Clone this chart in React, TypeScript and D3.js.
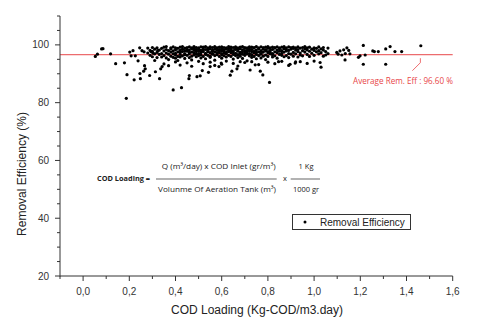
import React from "react";
import * as d3 from "d3";

const xMajorTicks = [0, 0.2, 0.4, 0.6, 0.8, 1.0, 1.2, 1.4, 1.6];
const xMinorTicks = [-0.1, 0.1, 0.3, 0.5, 0.7, 0.9, 1.1, 1.3, 1.5];
const yMajorTicks = [20, 40, 60, 80, 100];
const yMinorTicks = [25, 30, 35, 45, 50, 55, 65, 70, 75, 85, 90, 95, 105, 110];
const averageEfficiency = 96.6;

const leftPoints: [number, number][] = [
  [0.053, 96.0], [0.062, 96.8], [0.080, 98.6], [0.086, 98.7], [0.119, 96.9], [0.141, 93.5],
  [0.179, 93.8], [0.190, 89.7], [0.187, 81.5], [0.202, 97.5], [0.208, 96.2], [0.216, 98.0],
  [0.221, 87.9], [0.226, 96.2], [0.238, 94.5], [0.245, 99.0], [0.246, 90.1], [0.248, 88.3],
  [0.255, 98.0], [0.264, 97.6], [0.266, 92.8], [0.269, 91.7], [0.262, 90.9],
];

const lowPoints: [number, number][] = [
  [0.288, 89.4], [0.294, 97.7], [0.303, 97.1], [0.310, 94.6], [0.313, 90.7], [0.323, 98.0],
  [0.331, 88.3], [0.336, 91.7], [0.342, 92.5], [0.390, 84.4], [0.426, 85.2], [0.458, 88.3],
  [0.46, 89.4], [0.493, 89.0], [0.507, 89.3], [0.516, 91.1], [0.543, 90.5], [0.55, 92.5],
  [0.588, 92.5], [0.598, 93.7], [0.637, 89.5], [0.644, 90.9], [0.666, 91.7], [0.68, 94.2],
  [0.723, 91.3], [0.767, 90.9], [0.778, 89.6], [0.807, 87.0], [0.745, 93.1], [0.846, 94.2],
  [0.896, 93.3], [0.918, 93.7], [0.94, 94.2], [1.026, 93.9], [1.03, 92.3],
  [0.35, 93.4], [0.37, 92.8], [0.40, 94.1], [0.42, 93.0], [0.45, 93.8], [0.47, 92.6],
  [0.50, 94.3], [0.52, 93.5], [0.55, 94.0], [0.57, 92.9], [0.60, 93.3], [0.62, 94.4],
  [0.65, 93.6], [0.67, 92.7], [0.70, 93.9], [0.73, 94.2], [0.76, 93.2], [0.80, 94.0],
  [0.83, 93.5], [0.86, 94.3], [0.89, 92.9], [0.92, 94.1], [0.97, 93.6], [1.0, 94.4],
];

const bandColumns: [number, number[]][] = [
  [0.28, [97.2, 98.9]], [0.29, [96.4, 98.1]], [0.30, [97.8, 95.9, 99.1]], [0.31, [96.9, 98.5]],
  [0.32, [97.4, 99.0, 95.6]], [0.33, [98.2, 96.7]], [0.34, [97.0, 98.8, 95.8]],
  [0.35, [99.2, 96.3, 97.9]], [0.36, [98.4, 95.5, 97.2, 99.4]], [0.37, [96.8, 98.0, 94.9]],
  [0.38, [99.0, 97.5, 96.1, 98.6]], [0.39, [97.9, 95.7, 99.3, 96.9]],
  [0.40, [98.3, 97.1, 99.0, 95.4, 96.5]], [0.41, [97.6, 98.8, 96.0, 94.6]],
  [0.42, [99.2, 97.3, 98.1, 95.8, 96.7]], [0.43, [98.5, 96.2, 99.4, 97.7]],
  [0.44, [97.0, 98.9, 95.3, 96.6, 98.0]], [0.45, [99.1, 97.8, 96.4, 98.4]],
  [0.46, [98.2, 96.9, 99.3, 95.6, 97.4]], [0.47, [97.5, 98.7, 96.1, 99.0, 94.8]],
  [0.48, [98.8, 97.2, 99.4, 96.5, 98.1]], [0.49, [96.8, 98.3, 97.7, 95.9, 99.1]],
  [0.50, [99.0, 97.9, 96.3, 98.5, 97.0]], [0.51, [98.1, 96.6, 99.3, 97.4, 95.5]],
  [0.52, [97.7, 98.9, 96.0, 99.2, 98.3]], [0.53, [99.4, 97.1, 98.4, 96.7, 95.2]],
  [0.54, [98.0, 96.4, 99.0, 97.6, 98.7]], [0.55, [97.3, 98.6, 99.3, 96.1, 95.7]],
  [0.56, [99.1, 97.8, 96.8, 98.2, 97.0]], [0.57, [98.5, 96.3, 99.4, 97.5, 94.7]],
  [0.58, [97.2, 98.9, 96.6, 99.0, 98.1]], [0.59, [99.2, 97.9, 96.0, 98.4, 97.3]],
  [0.60, [98.7, 97.0, 99.3, 96.5, 95.4, 98.0]], [0.61, [97.6, 98.3, 96.2, 99.1, 97.1]],
  [0.62, [99.0, 98.5, 96.9, 97.4, 95.8]], [0.63, [98.1, 99.4, 97.7, 96.4, 98.8]],
  [0.64, [97.3, 98.6, 99.2, 96.0, 97.9]], [0.65, [99.1, 98.0, 96.7, 97.5, 95.1]],
  [0.66, [98.4, 97.1, 99.3, 96.3, 98.9]], [0.67, [97.8, 99.0, 96.6, 98.2, 95.6]],
  [0.68, [99.2, 97.4, 98.7, 96.1, 97.0]], [0.69, [98.3, 96.8, 99.4, 97.6, 95.3]],
  [0.70, [97.2, 98.8, 99.1, 96.4, 97.9]], [0.71, [99.0, 98.1, 96.9, 97.5, 94.5]],
  [0.72, [98.6, 97.0, 99.3, 96.2, 98.0]], [0.73, [97.7, 99.2, 98.4, 96.6, 95.7]],
  [0.74, [99.1, 97.3, 98.9, 96.0, 97.8]], [0.75, [98.2, 96.7, 99.4, 97.4, 95.2]],
  [0.76, [97.6, 98.7, 99.0, 96.3]], [0.77, [99.3, 98.0, 97.1, 96.8, 95.5]],
  [0.78, [98.5, 97.5, 99.1, 96.1]], [0.79, [97.9, 99.2, 98.3, 96.5, 94.9]],
  [0.80, [98.8, 97.2, 99.4, 96.0, 97.7]], [0.81, [99.0, 98.1, 96.9, 97.4]],
  [0.82, [98.4, 97.0, 99.2, 95.8, 96.6]], [0.83, [97.6, 98.9, 96.2, 99.1]],
  [0.84, [99.3, 98.2, 97.3, 95.4]], [0.85, [98.6, 97.8, 96.7, 99.0]],
  [0.86, [97.1, 99.2, 98.0, 96.4]], [0.87, [98.7, 99.4, 97.5, 95.9]],
  [0.88, [99.0, 97.9, 96.3, 98.3]], [0.89, [98.1, 97.0, 99.3, 95.6]],
  [0.90, [99.1, 98.5, 96.8]], [0.91, [97.4, 98.8, 96.1, 99.2]], [0.92, [98.2, 99.0, 96.9]],
  [0.93, [97.7, 99.3, 95.8, 98.4]], [0.94, [98.9, 97.2, 96.5]], [0.95, [99.1, 98.0, 96.2]],
  [0.96, [97.5, 98.6, 99.4]], [0.97, [98.3, 96.7, 99.0]], [0.98, [99.2, 97.8, 96.0]],
  [0.99, [98.5, 97.1]], [1.00, [99.0, 96.4, 98.1]], [1.01, [97.6, 98.8]],
  [1.02, [99.3, 96.9, 98.0]], [1.03, [97.3, 98.6]], [1.04, [96.1, 98.2, 99.1]],
  [1.05, [97.7, 96.5]], [1.06, [98.9, 97.0]],
];

const highPoints: [number, number][] = [
  [1.098, 97.4], [1.104, 96.8], [1.112, 97.9], [1.120, 96.5], [1.128, 98.3], [1.135, 97.0],
  [1.142, 99.0], [1.150, 98.1], [1.155, 96.9], [1.134, 94.8], [1.192, 95.7], [1.199, 96.2],
  [1.213, 93.3], [1.213, 99.8], [1.221, 96.5], [1.254, 97.9], [1.261, 97.7], [1.278, 97.7],
  [1.31, 98.6], [1.31, 93.3], [1.329, 99.4], [1.35, 97.7], [1.379, 97.7], [1.462, 99.7],
];

const bandPoints: [number, number][] = bandColumns.flatMap(([x, ys]) => ys.map((y) => [x, y] as [number, number]));
const allPoints = [...leftPoints, ...lowPoints, ...bandPoints, ...highPoints];

const fmt = (v: number) => v.toFixed(1).replace(".", ",");

export default function App() {
  const x = d3.scaleLinear().domain([-0.1, 1.6]).range([60, 452.7]);
  const y = d3.scaleLinear().domain([20, 110]).range([276, 16]);
  const axisColor = "#333";
  const red = "#e8474a";
  const x0 = x.range()[0];
  const y0 = y.range()[0];
  const sans = "'Liberation Sans', Arial, sans-serif";
  const cal = "'Open Sans', sans-serif";

  return (
    <svg width={480} height={327} style={{ position: "absolute", left: 0, top: 0, background: "#fff" }}>
      <rect width={480} height={327} fill="#fff" />
      <line x1={x(-0.1)} x2={x(1.6)} y1={y(averageEfficiency)} y2={y(averageEfficiency)} stroke={red} strokeWidth={1} />
      {allPoints.map(([px, py], i) => (
        <circle key={i} cx={x(px)} cy={y(py)} r={1.6} fill="#000" />
      ))}
      <line x1={x0} x2={x0} y1={y(110)} y2={y0 + 0.5} stroke={axisColor} strokeWidth={1} />
      <line x1={x0} x2={x(1.6)} y1={y0} y2={y0} stroke={axisColor} strokeWidth={1} />
      {yMajorTicks.map((t) => (
        <g key={"ym" + t}>
          <line x1={x0 - 5} x2={x0} y1={y(t)} y2={y(t)} stroke={axisColor} />
          <text x={x0 - 11} y={y(t)} dy="0.35em" textAnchor="end" fontFamily={sans} fontSize={10} fill="#333">{t}</text>
        </g>
      ))}
      {yMinorTicks.map((t) => (
        <line key={"yn" + t} x1={x0 - 3} x2={x0} y1={y(t)} y2={y(t)} stroke={axisColor} />
      ))}
      {xMajorTicks.map((t) => (
        <g key={"xm" + t}>
          <line x1={x(t)} x2={x(t)} y1={y0} y2={y0 + 5} stroke={axisColor} />
          <text x={x(t)} y={y0 + 19} textAnchor="middle" fontFamily={sans} fontSize={10} fill="#333">{fmt(t)}</text>
        </g>
      ))}
      {xMinorTicks.map((t) => (
        <line key={"xn" + t} x1={x(t)} x2={x(t)} y1={y0} y2={y0 + 3} stroke={axisColor} />
      ))}
      <text transform="translate(26,174) rotate(-90)" textAnchor="middle" fontFamily={sans} fontSize={12} fill="#222">Removal Efficiency (%)</text>
      <text x={257} y={314} textAnchor="middle" fontFamily={sans} fontSize={12} fill="#222">COD Loading (Kg-COD/m3.day)</text>
      <path d={`M${x(1.46)},${y(averageEfficiency) + 3.5} L${x(1.46)},${y(averageEfficiency) + 8} L${x(1.46) - 8},${y(averageEfficiency) + 16}`} fill="none" stroke={red} strokeWidth={0.8} />
      <text x={353} y={84} fontFamily={cal} fontSize={8.5} fill={red} textLength={100} lengthAdjust="spacingAndGlyphs">Average Rem. Eff : 96.60 %</text>
      <text x={97} y={180.5} fontFamily={cal} fontSize={7.5} fontWeight="bold" fill="#222" textLength={53} lengthAdjust="spacingAndGlyphs">COD Loading =</text>
      <text x={161.7} y={169} fontFamily={cal} fontSize={7.5} fill="#222" textLength={114} lengthAdjust="spacingAndGlyphs">Q (m³/day) x COD Inlet (gr/m³)</text>
      <line x1={156} x2={276.7} y1={179} y2={179} stroke="#222" strokeWidth={0.7} />
      <text x={158} y={192} fontFamily={cal} fontSize={7.5} fill="#222" textLength={118} lengthAdjust="spacingAndGlyphs">Volunme Of Aeration Tank  (m³)</text>
      <text x={285} y={181} textAnchor="middle" fontFamily={cal} fontSize={7.5} fill="#222">x</text>
      <text x={306} y={169} textAnchor="middle" fontFamily={cal} fontSize={7.5} fill="#222">1 Kg</text>
      <line x1={290.7} x2={320} y1={179} y2={179} stroke="#222" strokeWidth={0.7} />
      <text x={306} y={192} textAnchor="middle" fontFamily={cal} fontSize={7.5} fill="#222">1000 gr</text>
      <rect x={292.5} y={214.5} width={118} height={15} fill="#fff" stroke="#333" strokeWidth={1} />
      <circle cx={305} cy={222} r={1.5} fill="#000" />
      <text x={320} y={225.5} fontFamily={sans} fontSize={10} fill="#222">Removal Efficiency</text>
    </svg>
  );
}
